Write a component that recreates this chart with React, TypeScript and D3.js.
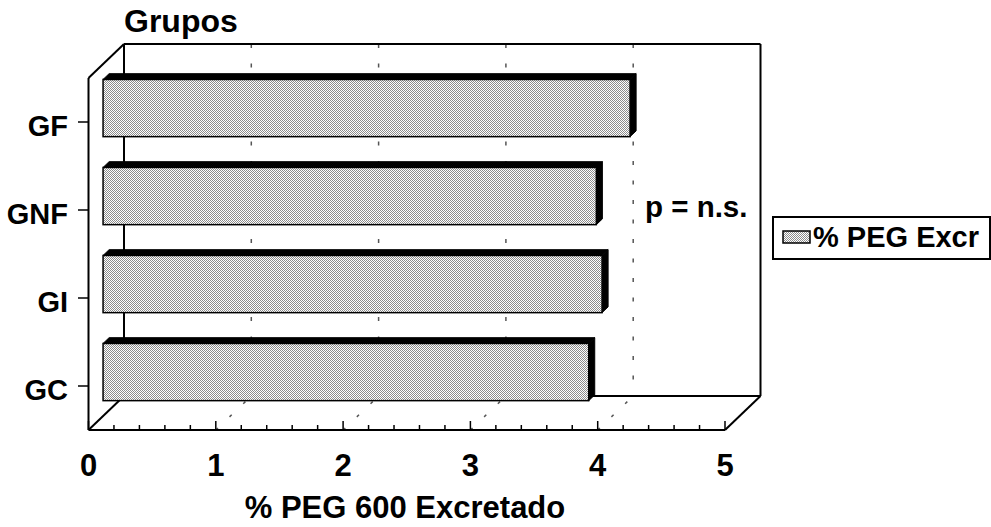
import React from "react";
import * as d3 from "d3";

const categories = ["GF", "GNF", "GI", "GC"];
const values = [4.14, 3.875, 3.92, 3.815];
const xTicks = [0, 1, 2, 3, 4, 5];
const seriesName = "% PEG Excr";
const xTitle = "% PEG 600 Excretado";
const yTitle = "Grupos";
const note = "p = n.s.";

const W = 991;
const H = 527;
const FONT = "'Liberation Sans', Arial, sans-serif";

export default function App() {
  const DX = 35.5;
  const DY = -34;
  const x = d3.scaleLinear().domain([0, 5]).range([88.5, 725]);
  const y = d3
    .scaleBand<string>()
    .domain(categories)
    .range([78, 430])
    .paddingInner(0.35)
    .paddingOuter(0.175);
  const frontTop = 78;
  const frontBottom = 430;
  const f1 = 0.41;
  const f2 = 0.58;
  const minor = d3.range(0, 26).map((i) => i * 0.2);

  const x0 = x(0);
  const x5 = x(5);

  return (
    <svg
      width={W}
      height={H}
      style={{ position: "absolute", left: 0, top: 0, background: "#fff" }}
      fontFamily={FONT}
      fontWeight="bold"
    >
      <defs>
        <pattern id="dots" width={2} height={2} patternUnits="userSpaceOnUse">
          <rect width={2} height={2} fill="#fff" />
          <rect x={0} y={0} width={1} height={1} fill="#8c8c8c" />
          <rect x={1} y={1} width={1} height={1} fill="#8c8c8c" />
        </pattern>
      </defs>
      <rect width={W} height={H} fill="#fff" />

      {/* back wall gridlines */}
      {xTicks.slice(1, -1).map((t) => (
        <line
          key={"g" + t}
          x1={x(t) + DX}
          x2={x(t) + DX}
          y1={frontTop + DY}
          y2={frontBottom + DY}
          stroke="#555"
          strokeWidth={1.5}
          strokeDasharray="4 15.5"
        />
      ))}
      {/* floor gridlines */}
      {xTicks.slice(1, -1).map((t) => (
        <line
          key={"f" + t}
          x1={x(t)}
          x2={x(t) + DX}
          y1={frontBottom}
          y2={frontBottom + DY}
          stroke="#555"
          strokeWidth={1.5}
          strokeDasharray="3 16"
        />
      ))}

      {/* walls */}
      <g stroke="#000" strokeWidth={2} fill="none">
        <line x1={x0 + DX} x2={x5 + DX} y1={frontTop + DY} y2={frontTop + DY} />
        <line x1={x0 + DX} x2={x0 + DX} y1={frontTop + DY} y2={frontBottom + DY} />
        <line x1={x5 + DX} x2={x5 + DX} y1={frontTop + DY} y2={frontBottom + DY} />
        <line x1={x0} x2={x0 + DX} y1={frontTop} y2={frontTop + DY} />
        <line x1={x0} x2={x0} y1={frontTop} y2={frontBottom} />
        <line x1={x0 + DX} x2={x5 + DX} y1={frontBottom + DY} y2={frontBottom + DY} />
        <line x1={x0} x2={x5} y1={frontBottom} y2={frontBottom} />
        <line x1={x0} x2={x0 + DX} y1={frontBottom} y2={frontBottom + DY} />
        <line x1={x5} x2={x5 + DX} y1={frontBottom} y2={frontBottom + DY} />
      </g>

      {/* x ticks */}
      {minor.map((t, i) => (
        <line
          key={"m" + i}
          x1={x(t)}
          x2={x(t)}
          y1={frontBottom}
          y2={frontBottom - (i % 5 === 0 ? 9 : 5)}
          stroke="#000"
          strokeWidth={1.5}
        />
      ))}

      {/* category ticks and labels */}
      {categories.map((c) => {
        const cy = (y(c) as number) + y.bandwidth() / 2;
        return (
          <g key={"c" + c}>
            <line x1={78} x2={x0} y1={cy} y2={cy} stroke="#000" strokeWidth={1.5} />
            <text x={68} y={cy + 14} textAnchor="end" fontSize={29}>
              {c}
            </text>
          </g>
        );
      })}

      {/* bars */}
      {categories.map((c, i) => {
        const bx0 = x(0) + f1 * DX;
        const bx1 = x(values[i]) + f1 * DX;
        const by0 = (y(c) as number) + f1 * DY;
        const by1 = by0 + y.bandwidth();
        const ox = (f2 - f1) * DX;
        const oy = (f2 - f1) * DY;
        return (
          <g key={"b" + c}>
            <polygon
              points={`${bx0},${by0} ${bx0 + ox},${by0 + oy} ${bx1 + ox},${by0 + oy} ${bx1},${by0}`}
              fill="#000"
              stroke="#000"
              strokeWidth={1}
            />
            <polygon
              points={`${bx1},${by0} ${bx1 + ox},${by0 + oy} ${bx1 + ox},${by1 + oy} ${bx1},${by1}`}
              fill="#000"
              stroke="#000"
              strokeWidth={1}
            />
            <rect
              x={bx0}
              y={by0}
              width={bx1 - bx0}
              height={by1 - by0}
              fill="url(#dots)"
              stroke="#000"
              strokeWidth={1.5}
            />
          </g>
        );
      })}

      {/* x tick labels */}
      {xTicks.map((t) => (
        <text key={"t" + t} x={x(t)} y={476} textAnchor="middle" fontSize={31}>
          {t}
        </text>
      ))}

      <text x={405} y={518} textAnchor="middle" fontSize={31}>
        {xTitle}
      </text>
      <text x={124} y={32} fontSize={32}>
        {yTitle}
      </text>
      <text x={645} y={217} fontSize={29.5}>
        {note}
      </text>

      {/* legend */}
      <rect x={773} y={217} width={217} height={42} fill="#fff" stroke="#000" strokeWidth={2} />
      <rect x={783} y={231} width={27} height={12} fill="url(#dots)" stroke="#000" strokeWidth={1.5} />
      <text x={813} y={247} fontSize={29}>
        {seriesName}
      </text>
    </svg>
  );
}
